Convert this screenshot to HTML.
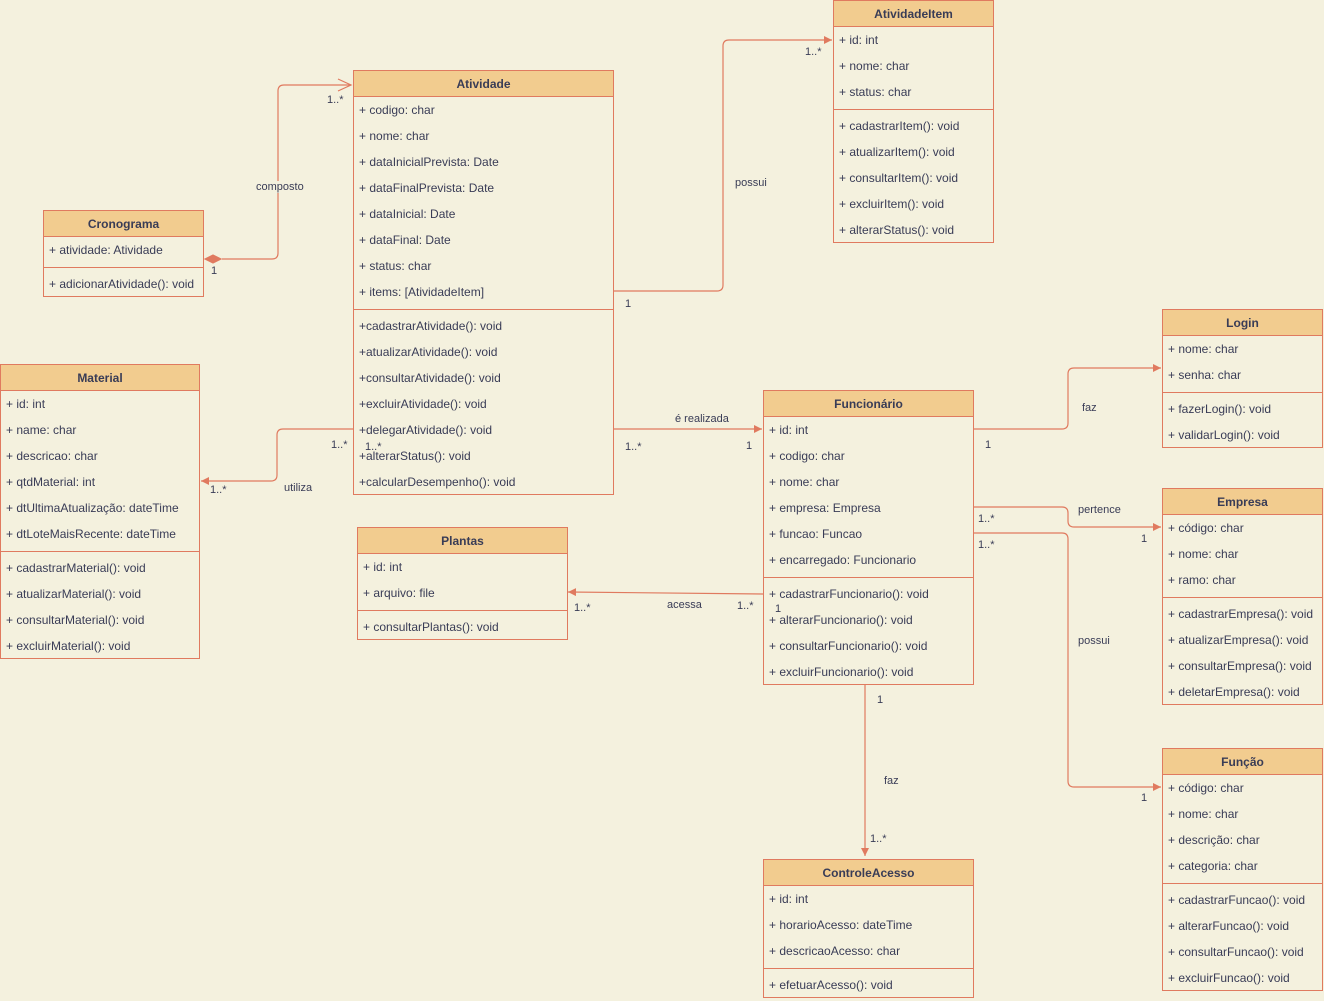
<!DOCTYPE html>
<html><head><meta charset="utf-8"><style>
html,body{margin:0;padding:0}
body{width:1324px;height:1001px;background:#F4F1DE;position:relative;overflow:hidden;font-family:"Liberation Sans",sans-serif;color:#393C56}
.c{position:absolute;border:1px solid #E07A5F;background:#F4F1DE;box-sizing:border-box}
.h{height:26px;background:#F2CC8F;border-bottom:1px solid #E07A5F;box-sizing:border-box;text-align:center;font-weight:bold;font-size:12px;line-height:26px}
.r{height:26px;line-height:26px;font-size:12px;padding-left:5px;white-space:nowrap}
.s{height:4px;border-top:1px solid #E07A5F;box-sizing:border-box;margin-top:4px}
.l{position:absolute;font-size:11px;white-space:nowrap;color:#393C56}
svg{position:absolute;left:0;top:0}
</style></head><body>
<svg width="1324" height="1001" fill="none" stroke="#E07A5F" stroke-width="1.2">
<defs><marker id="a" markerWidth="10" markerHeight="10" refX="8" refY="4" orient="auto" markerUnits="userSpaceOnUse"><path d="M0,0 L8,4 L0,8 Z" fill="#E07A5F" stroke="none"/></marker></defs>
<path d="M222,259 H272 Q278,259 278,253 V91 Q278,85 284,85 H351"/>
<path d="M338,79 L351,85 L338,91"/>
<path d="M205,259 L213,255 L221,259 L213,263 Z" fill="#E07A5F"/>
<path d="M613,291 H717 Q723,291 723,285 V46 Q723,40 729,40 H832" marker-end="url(#a)"/>
<path d="M353,429 H283 Q277,429 277,435 V475 Q277,481 271,481 H201" marker-end="url(#a)"/>
<path d="M613,429 H762" marker-end="url(#a)"/>
<path d="M763,594 L568,592" marker-end="url(#a)"/>
<path d="M973,429 H1062 Q1068,429 1068,423 V374 Q1068,368 1074,368 H1161" marker-end="url(#a)"/>
<path d="M973,507 H1062 Q1068,507 1068,513 V521 Q1068,527 1074,527 H1161" marker-end="url(#a)"/>
<path d="M973,533 H1062 Q1068,533 1068,539 V781 Q1068,787 1074,787 H1161" marker-end="url(#a)"/>
<path d="M865,684 V856" marker-end="url(#a)"/>
</svg>

<div class="c" style="left:43px;top:210px;width:161px;height:87px"><div class="h">Cronograma</div><div class="r">+ atividade: Atividade</div><div class="s"></div><div class="r">+ adicionarAtividade(): void</div></div>

<div class="c" style="left:353px;top:70px;width:261px;height:425px"><div class="h">Atividade</div>
<div class="r">+ codigo: char</div><div class="r">+ nome: char</div><div class="r">+ dataInicialPrevista: Date</div><div class="r">+ dataFinalPrevista: Date</div><div class="r">+ dataInicial: Date</div><div class="r">+ dataFinal: Date</div><div class="r">+ status: char</div><div class="r">+ items: [AtividadeItem]</div><div class="s"></div>
<div class="r">+cadastrarAtividade(): void</div><div class="r">+atualizarAtividade(): void</div><div class="r">+consultarAtividade(): void</div><div class="r">+excluirAtividade(): void</div><div class="r">+delegarAtividade(): void</div><div class="r">+alterarStatus(): void</div><div class="r">+calcularDesempenho(): void</div></div>

<div class="c" style="left:833px;top:0px;width:161px;height:243px"><div class="h">AtividadeItem</div>
<div class="r">+ id: int</div><div class="r">+ nome: char</div><div class="r">+ status: char</div><div class="s"></div>
<div class="r">+ cadastrarItem(): void</div><div class="r">+ atualizarItem(): void</div><div class="r">+ consultarItem(): void</div><div class="r">+ excluirItem(): void</div><div class="r">+ alterarStatus(): void</div></div>

<div class="c" style="left:0px;top:364px;width:200px;height:295px"><div class="h">Material</div>
<div class="r">+ id: int</div><div class="r">+ name: char</div><div class="r">+ descricao: char</div><div class="r">+ qtdMaterial: int</div><div class="r">+ dtUltimaAtualização: dateTime</div><div class="r">+ dtLoteMaisRecente: dateTime</div><div class="s"></div>
<div class="r">+ cadastrarMaterial(): void</div><div class="r">+ atualizarMaterial(): void</div><div class="r">+ consultarMaterial(): void</div><div class="r">+ excluirMaterial(): void</div></div>

<div class="c" style="left:357px;top:527px;width:211px;height:113px"><div class="h">Plantas</div>
<div class="r">+ id: int</div><div class="r">+ arquivo: file</div><div class="s"></div><div class="r">+ consultarPlantas(): void</div></div>

<div class="c" style="left:763px;top:390px;width:211px;height:295px"><div class="h">Funcionário</div>
<div class="r">+ id: int</div><div class="r">+ codigo: char</div><div class="r">+ nome: char</div><div class="r">+ empresa: Empresa</div><div class="r">+ funcao: Funcao</div><div class="r">+ encarregado: Funcionario</div><div class="s"></div>
<div class="r">+ cadastrarFuncionario(): void</div><div class="r">+ alterarFuncionario(): void</div><div class="r">+ consultarFuncionario(): void</div><div class="r">+ excluirFuncionario(): void</div></div>

<div class="c" style="left:1162px;top:309px;width:161px;height:139px"><div class="h">Login</div>
<div class="r">+ nome: char</div><div class="r">+ senha: char</div><div class="s"></div><div class="r">+ fazerLogin(): void</div><div class="r">+ validarLogin(): void</div></div>

<div class="c" style="left:1162px;top:488px;width:161px;height:217px"><div class="h">Empresa</div>
<div class="r">+ código: char</div><div class="r">+ nome: char</div><div class="r">+ ramo: char</div><div class="s"></div>
<div class="r">+ cadastrarEmpresa(): void</div><div class="r">+ atualizarEmpresa(): void</div><div class="r">+ consultarEmpresa(): void</div><div class="r">+ deletarEmpresa(): void</div></div>

<div class="c" style="left:1162px;top:748px;width:161px;height:243px"><div class="h">Função</div>
<div class="r">+ código: char</div><div class="r">+ nome: char</div><div class="r">+ descrição: char</div><div class="r">+ categoria: char</div><div class="s"></div>
<div class="r">+ cadastrarFuncao(): void</div><div class="r">+ alterarFuncao(): void</div><div class="r">+ consultarFuncao(): void</div><div class="r">+ excluirFuncao(): void</div></div>

<div class="c" style="left:763px;top:859px;width:211px;height:139px"><div class="h">ControleAcesso</div>
<div class="r">+ id: int</div><div class="r">+ horarioAcesso: dateTime</div><div class="r">+ descricaoAcesso: char</div><div class="s"></div><div class="r">+ efetuarAcesso(): void</div></div>

<div class="l" style="left:256px;top:181px;background:#F4F1DE">composto</div>
<div class="l" style="left:211px;top:265px">1</div>
<div class="l" style="left:327px;top:94px">1..*</div>
<div class="l" style="left:735px;top:177px">possui</div>
<div class="l" style="left:625px;top:298px">1</div>
<div class="l" style="left:805px;top:46px">1..*</div>
<div class="l" style="left:331px;top:439px">1..*</div>
<div class="l" style="left:365px;top:441px">1..*</div>
<div class="l" style="left:210px;top:484px">1..*</div>
<div class="l" style="left:284px;top:482px">utiliza</div>
<div class="l" style="left:675px;top:413px">é realizada</div>
<div class="l" style="left:625px;top:441px">1..*</div>
<div class="l" style="left:746px;top:440px">1</div>
<div class="l" style="left:667px;top:599px">acessa</div>
<div class="l" style="left:574px;top:602px">1..*</div>
<div class="l" style="left:737px;top:600px">1..*</div>
<div class="l" style="left:775px;top:603px">1</div>
<div class="l" style="left:1082px;top:402px">faz</div>
<div class="l" style="left:985px;top:439px">1</div>
<div class="l" style="left:1078px;top:504px">pertence</div>
<div class="l" style="left:978px;top:513px">1..*</div>
<div class="l" style="left:1141px;top:533px">1</div>
<div class="l" style="left:1078px;top:635px">possui</div>
<div class="l" style="left:978px;top:539px">1..*</div>
<div class="l" style="left:1141px;top:792px">1</div>
<div class="l" style="left:877px;top:694px">1</div>
<div class="l" style="left:884px;top:775px">faz</div>
<div class="l" style="left:870px;top:833px">1..*</div>
</body></html>
